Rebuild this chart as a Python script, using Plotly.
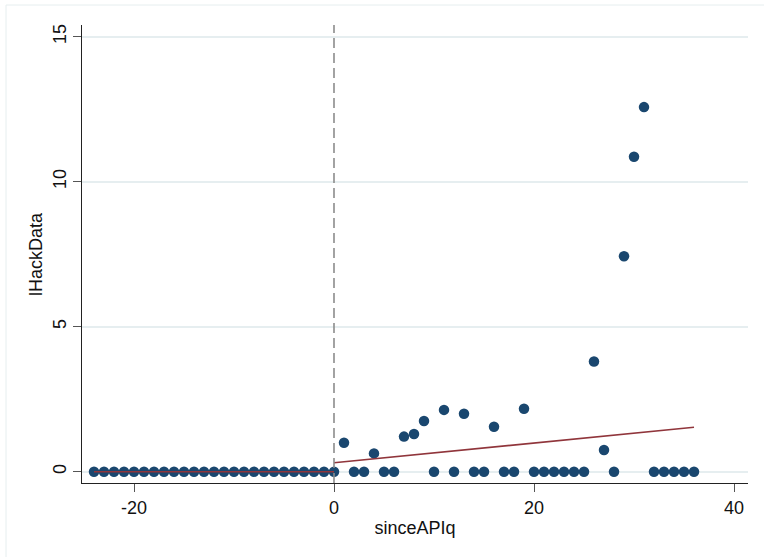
import plotly.graph_objects as go

# Quarters since API (x) and lHackData values (y)
pre_x = list(range(-24, 1))
pre_y = [0.0] * len(pre_x)

post_x = list(range(1, 37))
post_y = [1.00, 0.0, 0.0, 0.63, 0.0, 0.0, 1.21, 1.30, 1.75, 0.0,
          2.13, 0.0, 2.00, 0.0, 0.0, 1.55, 0.0, 0.0, 2.17, 0.0,
          0.0, 0.0, 0.0, 0.0, 0.0, 3.80, 0.75, 0.0, 7.43, 10.86,
          12.57, 0.0, 0.0, 0.0, 0.0, 0.0]

# Fitted lines (pre and post period)
fit_pre_x = [-24, 0]
fit_pre_y = [0.0, 0.0]
fit_post_x = [0, 36]
fit_post_y = [0.31, 1.53]

event_x = 0
x_ticks = [-20, 0, 20, 40]
y_ticks = [0, 5, 10, 15]
x_title = "sinceAPIq"
y_title = "lHackData"

navy = "#1a476f"
maroon = "#90353b"
font_family = "Liberation Sans, Arial, sans-serif"

fig = go.Figure()

fig.add_trace(go.Scatter(
    x=pre_x + post_x, y=pre_y + post_y, mode="markers",
    marker=dict(color=navy, size=10.5, line=dict(width=0)),
    showlegend=False, cliponaxis=False))

fig.add_trace(go.Scatter(
    x=fit_pre_x, y=fit_pre_y, mode="lines",
    line=dict(color=maroon, width=1.6), showlegend=False))
fig.add_trace(go.Scatter(
    x=fit_post_x, y=fit_post_y, mode="lines",
    line=dict(color=maroon, width=1.6), showlegend=False))

fig.add_shape(type="line", xref="x", yref="paper", x0=event_x, x1=event_x,
              y0=0, y1=1, line=dict(color="#8c8c8c", width=1.6, dash="10px,5px"),
              layer="above")

# faint outer graph-region border
W, H = 764, 557
ml, mr, mt, mb = 82, 16, 25, 74
pw, ph = W - ml - mr, H - mt - mb
fig.add_shape(type="rect", xref="paper", yref="paper",
              x0=(6 - ml) / pw, x1=(W + 10 - ml) / pw,
              y0=-(mb + 10) / ph, y1=(H - mb - 5) / ph,
              line=dict(color="#e6eeef", width=1), fillcolor="rgba(0,0,0,0)",
              layer="below")

# y-axis title placed as rotated text
fig.add_annotation(text=y_title, xref="paper", yref="paper",
                   x=(36 - ml) / pw, y=0.5, xanchor="center", yanchor="middle",
                   textangle=-90, showarrow=False, font=dict(size=18))

fig.update_layout(
    width=W, height=H,
    margin=dict(l=ml, r=mr, t=mt, b=mb, pad=0, autoexpand=False),
    paper_bgcolor="white", plot_bgcolor="white",
    font=dict(family=font_family, size=18, color="#111111"),
    xaxis=dict(
        range=[-25.2, 41.4], tickvals=x_ticks, ticktext=[str(v) for v in x_ticks],
        showgrid=False, zeroline=False, automargin=False,
        showline=True, linecolor="#222222", linewidth=1.2,
        ticks="outside", ticklen=8, tickwidth=1.2, tickcolor="#555555",
        tickfont=dict(size=18),
        title=dict(text=x_title, font=dict(size=18), standoff=4),
    ),
    yaxis=dict(
        range=[-0.39, 15.4], tickvals=y_ticks, ticktext=[str(v) for v in y_ticks],
        showgrid=True, gridcolor="#e6eef0", gridwidth=1.6, zeroline=False,
        automargin=False,
        showline=True, linecolor="#222222", linewidth=1.2,
        ticks="outside", ticklen=8, tickwidth=1.2, tickcolor="#555555",
        tickangle=-90, tickfont=dict(size=18),
    ),
)

fig.write_html(
    "out.html",
    config={"displayModeBar": False},
    post_script="document.body.style.margin='0';document.body.style.overflow='hidden';",
)
